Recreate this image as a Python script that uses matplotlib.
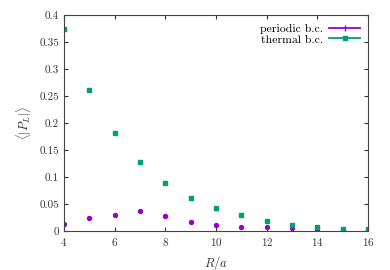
import matplotlib
matplotlib.use("Agg")
import matplotlib.pyplot as plt
from matplotlib.lines import Line2D

plt.rcParams['font.family'] = 'serif'
plt.rcParams['font.serif'] = ['cmr10', 'DejaVu Serif']
plt.rcParams['mathtext.fontset'] = 'cm'
plt.rcParams['axes.formatter.use_mathtext'] = True

# R/a values
r_a = [4, 5, 6, 7, 8, 9, 10, 11, 12, 13, 14, 15, 16]

# periodic boundary conditions
periodic = [0.013, 0.025, 0.030, 0.038, 0.028, 0.017, 0.011, 0.007, 0.007, 0.006, 0.004, 0.003, 0.002]
periodic_err = [0.001, 0.001, 0.001, 0.001, 0.001, 0.001, 0.001, 0.001, 0.001, 0.001, 0.001, 0.001, 0.001]

# thermal boundary conditions
thermal = [0.374, 0.261, 0.182, 0.128, 0.089, 0.062, 0.042, 0.030, 0.019, 0.011, 0.008, 0.004, 0.004]
thermal_err = [0.002, 0.002, 0.002, 0.002, 0.002, 0.002, 0.002, 0.002, 0.002, 0.002, 0.002, 0.002, 0.002]

purple = '#9400d3'
green = '#009e73'

fig = plt.figure(figsize=(3.9, 2.7), dpi=100)
ax = fig.add_axes([0.164, 0.144, 0.78, 0.80])

ax.errorbar(r_a, periodic, yerr=periodic_err, fmt='o', color=purple,
            markersize=2.8, capsize=1.2, elinewidth=1)
ax.errorbar(r_a, thermal, yerr=thermal_err, fmt='s', color=green,
            markersize=2.8, capsize=1.2, elinewidth=1)

ax.set_xlim(4, 16)
ax.set_ylim(0, 0.4)
ax.set_xticks([4, 6, 8, 10, 12, 14, 16])
ax.set_yticks([0, 0.05, 0.1, 0.15, 0.2, 0.25, 0.3, 0.35, 0.4])
ax.set_yticklabels(['0', '0.05', '0.1', '0.15', '0.2', '0.25', '0.3', '0.35', '0.4'])
ax.tick_params(direction='in', top=True, right=True, labelsize=8, length=3, colors='#333333')
for s in ax.spines.values():
    s.set_color('#444444')

ax.set_xlabel(r'$R/a$', fontsize=9, color='#333333')
ax.set_ylabel(r'$\langle|P_L|\rangle$', fontsize=9, color='#333333')

# gnuplot-like legend: horizontal bar with point in the middle
handles = [
    Line2D([], [], color=purple, marker='|', markersize=4, lw=1.3),
    Line2D([], [], color=green, marker='s', markersize=2.5, lw=1.3),
]
leg = ax.legend(handles, ['periodic b.c.', 'thermal b.c.'], loc='upper right',
                frameon=False, markerfirst=False, fontsize=8.5,
                handlelength=2.6, handletextpad=0.5, borderaxespad=0.3,
                labelspacing=0.05)

fig.savefig('out.png', dpi=100)
